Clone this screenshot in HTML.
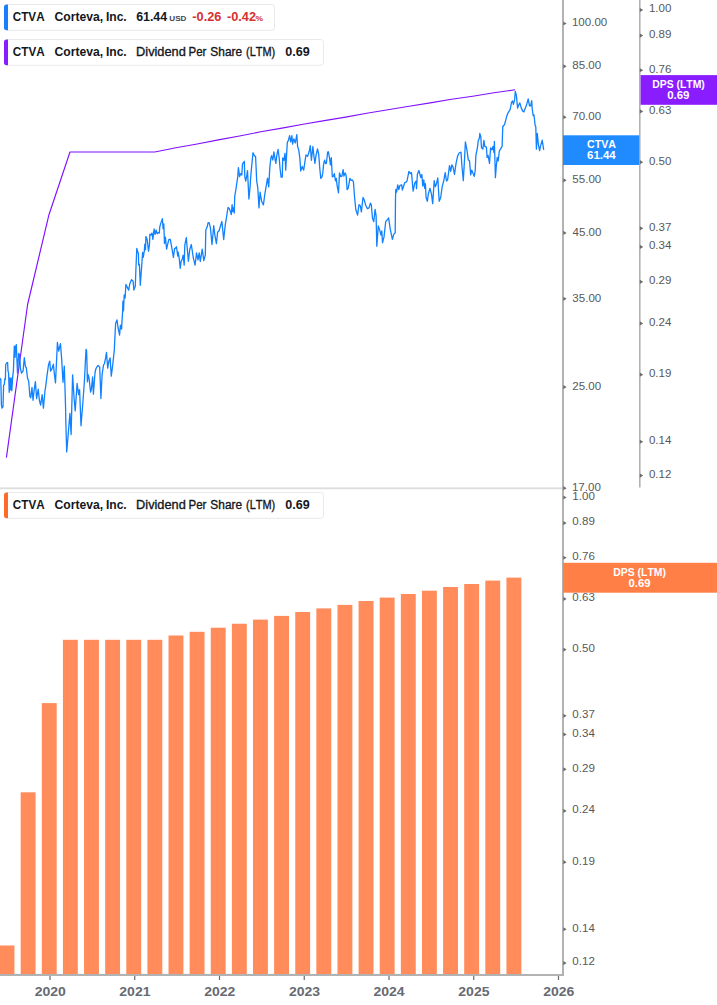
<!DOCTYPE html>
<html><head><meta charset="utf-8"><style>
html,body{margin:0;padding:0;background:#fff;width:717px;height:1005px;overflow:hidden}
svg{display:block;font-family:"Liberation Sans",sans-serif;font-kerning:none}
</style></head><body>
<svg width="717" height="1005" viewBox="0 0 717 1005">
<rect x="0" y="487.4" width="562" height="1.8" fill="#dddddd"/>
<rect x="562" y="0" width="2" height="976" fill="#b2b2b2"/>
<rect x="639" y="0" width="1.6" height="487.5" fill="#b2b2b2"/>
<rect x="0" y="974" width="564" height="2" fill="#b2b2b2"/>
<path d="M563.30 21.40 L566.60 23.50 L563.30 25.60 Z" fill="#6b6b6b"/>
<text transform="translate(571.92,26.20) scale(1.0061,1)" font-size="11.50" font-weight="400" fill="#585858" >100.00</text>
<path d="M563.30 64.20 L566.60 66.30 L563.30 68.40 Z" fill="#6b6b6b"/>
<text transform="translate(572.30,69.00) scale(1.0061,1)" font-size="11.50" font-weight="400" fill="#585858" >85.00</text>
<path d="M563.30 115.10 L566.60 117.20 L563.30 119.30 Z" fill="#6b6b6b"/>
<text transform="translate(572.21,119.90) scale(1.0061,1)" font-size="11.50" font-weight="400" fill="#585858" >70.00</text>
<path d="M563.30 178.21 L566.60 180.31 L563.30 182.41 Z" fill="#6b6b6b"/>
<text transform="translate(572.34,183.01) scale(1.0061,1)" font-size="11.50" font-weight="400" fill="#585858" >55.00</text>
<path d="M563.30 230.85 L566.60 232.95 L563.30 235.05 Z" fill="#6b6b6b"/>
<text transform="translate(572.53,235.65) scale(1.0061,1)" font-size="11.50" font-weight="400" fill="#585858" >45.00</text>
<path d="M563.30 296.77 L566.60 298.87 L563.30 300.97 Z" fill="#6b6b6b"/>
<text transform="translate(572.36,301.57) scale(1.0061,1)" font-size="11.50" font-weight="400" fill="#585858" >35.00</text>
<path d="M563.30 385.00 L566.60 387.10 L563.30 389.20 Z" fill="#6b6b6b"/>
<text transform="translate(572.22,389.80) scale(1.0061,1)" font-size="11.50" font-weight="400" fill="#585858" >25.00</text>
<path d="M563.30 486.10 L566.60 488.20 L563.30 490.30 Z" fill="#6b6b6b"/>
<text transform="translate(571.92,490.90) scale(1.0061,1)" font-size="11.50" font-weight="400" fill="#585858" >17.00</text>
<path d="M639.90 7.90 L643.20 10.00 L639.90 12.10 Z" fill="#6b6b6b"/>
<text transform="translate(648.95,12.30) scale(1.0052,1)" font-size="11.5" fill="#585858">1.00</text>
<path d="M639.90 33.49 L643.20 35.59 L639.90 37.69 Z" fill="#6b6b6b"/>
<text transform="translate(648.95,37.89) scale(1.0052,1)" font-size="11.5" fill="#585858">0.89</text>
<path d="M639.90 68.17 L643.20 70.27 L639.90 72.37 Z" fill="#6b6b6b"/>
<text transform="translate(648.95,72.57) scale(1.0052,1)" font-size="11.5" fill="#585858">0.76</text>
<path d="M639.90 109.36 L643.20 111.46 L639.90 113.56 Z" fill="#6b6b6b"/>
<text transform="translate(648.95,113.76) scale(1.0052,1)" font-size="11.5" fill="#585858">0.63</text>
<path d="M639.90 160.12 L643.20 162.22 L639.90 164.32 Z" fill="#6b6b6b"/>
<text transform="translate(648.95,164.52) scale(1.0052,1)" font-size="11.5" fill="#585858">0.50</text>
<path d="M639.90 226.24 L643.20 228.34 L639.90 230.44 Z" fill="#6b6b6b"/>
<text transform="translate(648.95,230.64) scale(1.0052,1)" font-size="11.5" fill="#585858">0.37</text>
<path d="M639.90 244.81 L643.20 246.91 L639.90 249.01 Z" fill="#6b6b6b"/>
<text transform="translate(648.95,249.21) scale(1.0052,1)" font-size="11.5" fill="#585858">0.34</text>
<path d="M639.90 279.74 L643.20 281.84 L639.90 283.94 Z" fill="#6b6b6b"/>
<text transform="translate(648.95,284.14) scale(1.0052,1)" font-size="11.5" fill="#585858">0.29</text>
<path d="M639.90 321.29 L643.20 323.39 L639.90 325.49 Z" fill="#6b6b6b"/>
<text transform="translate(648.95,325.69) scale(1.0052,1)" font-size="11.5" fill="#585858">0.24</text>
<path d="M639.90 372.60 L643.20 374.70 L639.90 376.80 Z" fill="#6b6b6b"/>
<text transform="translate(648.95,377.00) scale(1.0052,1)" font-size="11.5" fill="#585858">0.19</text>
<path d="M639.90 439.66 L643.20 441.76 L639.90 443.86 Z" fill="#6b6b6b"/>
<text transform="translate(648.95,444.06) scale(1.0052,1)" font-size="11.5" fill="#585858">0.14</text>
<path d="M639.90 473.51 L643.20 475.61 L639.90 477.71 Z" fill="#6b6b6b"/>
<text transform="translate(648.95,477.91) scale(1.0052,1)" font-size="11.5" fill="#585858">0.12</text>
<path d="M563.30 495.40 L566.60 497.50 L563.30 499.60 Z" fill="#6b6b6b"/>
<text transform="translate(572.35,499.80) scale(1.0052,1)" font-size="11.5" fill="#585858">1.00</text>
<path d="M563.30 520.99 L566.60 523.09 L563.30 525.19 Z" fill="#6b6b6b"/>
<text transform="translate(572.35,525.39) scale(1.0052,1)" font-size="11.5" fill="#585858">0.89</text>
<path d="M563.30 555.67 L566.60 557.77 L563.30 559.87 Z" fill="#6b6b6b"/>
<text transform="translate(572.35,560.07) scale(1.0052,1)" font-size="11.5" fill="#585858">0.76</text>
<path d="M563.30 596.86 L566.60 598.96 L563.30 601.06 Z" fill="#6b6b6b"/>
<text transform="translate(572.35,601.26) scale(1.0052,1)" font-size="11.5" fill="#585858">0.63</text>
<path d="M563.30 647.62 L566.60 649.72 L563.30 651.82 Z" fill="#6b6b6b"/>
<text transform="translate(572.35,652.02) scale(1.0052,1)" font-size="11.5" fill="#585858">0.50</text>
<path d="M563.30 713.74 L566.60 715.84 L563.30 717.94 Z" fill="#6b6b6b"/>
<text transform="translate(572.35,718.14) scale(1.0052,1)" font-size="11.5" fill="#585858">0.37</text>
<path d="M563.30 732.31 L566.60 734.41 L563.30 736.51 Z" fill="#6b6b6b"/>
<text transform="translate(572.35,736.71) scale(1.0052,1)" font-size="11.5" fill="#585858">0.34</text>
<path d="M563.30 767.24 L566.60 769.34 L563.30 771.44 Z" fill="#6b6b6b"/>
<text transform="translate(572.35,771.64) scale(1.0052,1)" font-size="11.5" fill="#585858">0.29</text>
<path d="M563.30 808.79 L566.60 810.89 L563.30 812.99 Z" fill="#6b6b6b"/>
<text transform="translate(572.35,813.19) scale(1.0052,1)" font-size="11.5" fill="#585858">0.24</text>
<path d="M563.30 860.10 L566.60 862.20 L563.30 864.30 Z" fill="#6b6b6b"/>
<text transform="translate(572.35,864.50) scale(1.0052,1)" font-size="11.5" fill="#585858">0.19</text>
<path d="M563.30 927.16 L566.60 929.26 L563.30 931.36 Z" fill="#6b6b6b"/>
<text transform="translate(572.35,931.56) scale(1.0052,1)" font-size="11.5" fill="#585858">0.14</text>
<path d="M563.30 961.01 L566.60 963.11 L563.30 965.21 Z" fill="#6b6b6b"/>
<text transform="translate(572.35,965.41) scale(1.0052,1)" font-size="11.5" fill="#585858">0.12</text>
<rect x="49.40" y="976" width="1.2" height="4" fill="#6b6b6b"/>
<text transform="translate(34.66,996.20) scale(1.1117,1)" font-size="12.60" font-weight="700" fill="#676a72">2020</text>
<rect x="134.15" y="976" width="1.2" height="4" fill="#6b6b6b"/>
<text transform="translate(119.32,996.20) scale(1.1117,1)" font-size="12.60" font-weight="700" fill="#676a72">2021</text>
<rect x="218.90" y="976" width="1.2" height="4" fill="#6b6b6b"/>
<text transform="translate(204.16,996.20) scale(1.1117,1)" font-size="12.60" font-weight="700" fill="#676a72">2022</text>
<rect x="303.65" y="976" width="1.2" height="4" fill="#6b6b6b"/>
<text transform="translate(288.88,996.20) scale(1.1117,1)" font-size="12.60" font-weight="700" fill="#676a72">2023</text>
<rect x="388.40" y="976" width="1.2" height="4" fill="#6b6b6b"/>
<text transform="translate(373.41,996.20) scale(1.1117,1)" font-size="12.60" font-weight="700" fill="#676a72">2024</text>
<rect x="473.15" y="976" width="1.2" height="4" fill="#6b6b6b"/>
<text transform="translate(458.32,996.20) scale(1.1117,1)" font-size="12.60" font-weight="700" fill="#676a72">2025</text>
<rect x="557.90" y="976" width="1.2" height="4" fill="#6b6b6b"/>
<text transform="translate(543.13,996.20) scale(1.1117,1)" font-size="12.60" font-weight="700" fill="#676a72">2026</text>
<rect x="0.00" y="945.50" width="14.46" height="28.50" fill="#ff8c5a"/>
<rect x="20.68" y="792.30" width="14.90" height="181.70" fill="#ff8c5a"/>
<rect x="41.80" y="703.10" width="14.90" height="270.90" fill="#ff8c5a"/>
<rect x="62.92" y="639.80" width="14.90" height="334.20" fill="#ff8c5a"/>
<rect x="84.04" y="639.80" width="14.90" height="334.20" fill="#ff8c5a"/>
<rect x="105.16" y="639.80" width="14.90" height="334.20" fill="#ff8c5a"/>
<rect x="126.28" y="639.80" width="14.90" height="334.20" fill="#ff8c5a"/>
<rect x="147.40" y="639.80" width="14.90" height="334.20" fill="#ff8c5a"/>
<rect x="168.52" y="635.50" width="14.90" height="338.50" fill="#ff8c5a"/>
<rect x="189.64" y="631.80" width="14.90" height="342.20" fill="#ff8c5a"/>
<rect x="210.76" y="627.70" width="14.90" height="346.30" fill="#ff8c5a"/>
<rect x="231.88" y="623.75" width="14.90" height="350.25" fill="#ff8c5a"/>
<rect x="253.00" y="619.60" width="14.90" height="354.40" fill="#ff8c5a"/>
<rect x="274.12" y="615.90" width="14.90" height="358.10" fill="#ff8c5a"/>
<rect x="295.24" y="612.00" width="14.90" height="362.00" fill="#ff8c5a"/>
<rect x="316.36" y="608.40" width="14.90" height="365.60" fill="#ff8c5a"/>
<rect x="337.48" y="604.90" width="14.90" height="369.10" fill="#ff8c5a"/>
<rect x="358.60" y="601.00" width="14.90" height="373.00" fill="#ff8c5a"/>
<rect x="379.72" y="597.60" width="14.90" height="376.40" fill="#ff8c5a"/>
<rect x="400.84" y="594.00" width="14.90" height="380.00" fill="#ff8c5a"/>
<rect x="421.96" y="590.70" width="14.90" height="383.30" fill="#ff8c5a"/>
<rect x="443.08" y="587.00" width="14.90" height="387.00" fill="#ff8c5a"/>
<rect x="464.20" y="584.00" width="14.90" height="390.00" fill="#ff8c5a"/>
<rect x="485.32" y="580.60" width="14.90" height="393.40" fill="#ff8c5a"/>
<rect x="506.44" y="577.60" width="14.90" height="396.40" fill="#ff8c5a"/>
<path d="M6.40 457.70 L27.60 304.50 L48.79 215.30 L69.99 152.00 L91.18 152.00 L112.38 152.00 L133.58 152.00 L154.77 152.00 L175.97 147.70 L197.16 144.00 L218.36 139.90 L239.56 135.95 L260.75 131.80 L281.95 128.10 L303.14 124.20 L324.34 120.60 L345.54 117.10 L366.73 113.20 L387.93 109.80 L409.12 106.20 L430.32 102.90 L451.52 99.20 L472.71 96.20 L493.91 92.80 L515.10 89.80" fill="none" stroke="#8010ff" stroke-width="1.15" stroke-linejoin="round"/>
<path d="M0.00 378.00 L0.80 379.60 L1.40 405.10 L2.00 408.20 L3.00 406.70 L3.60 385.20 L4.40 384.40 L4.80 378.80 L5.40 379.60 L5.70 364.50 L6.80 362.90 L7.60 362.50 L8.00 370.80 L8.60 373.20 L9.20 392.30 L9.70 378.00 L10.40 389.90 L11.10 378.00 L11.80 390.70 L12.70 376.40 L13.40 370.80 L14.30 346.10 L15.10 357.30 L15.50 347.00 L16.30 344.60 L17.50 373.20 L18.70 353.30 L19.50 354.90 L20.50 369.20 L21.50 373.20 L23.10 370.80 L24.30 357.70 L25.50 366.80 L26.30 367.60 L27.50 378.00 L28.70 381.20 L29.90 396.30 L30.70 397.90 L32.00 387.50 L33.00 400.30 L34.10 390.70 L35.40 381.60 L36.60 398.70 L38.20 389.10 L39.40 400.30 L40.60 405.10 L42.20 394.70 L43.40 408.20 L45.00 390.70 L45.60 387.20 L46.80 377.30 L48.50 364.90 L49.70 361.10 L50.60 371.10 L51.80 369.20 L53.40 364.20 L54.30 373.60 L55.50 382.90 L57.40 342.50 L58.70 351.20 L60.50 343.70 L61.80 361.10 L63.00 382.30 L64.30 366.10 L65.50 404.70 L65.90 424.60 L66.70 451.90 L68.00 437.00 L69.90 413.40 L71.10 434.50 L72.60 374.80 L74.20 399.70 L75.20 410.90 L77.10 383.50 L78.60 394.70 L79.60 389.70 L81.00 425.80 L82.90 402.20 L84.50 379.80 L86.00 349.30 L86.60 350.70 L87.00 363.50 L87.40 381.80 L88.20 374.60 L89.00 377.80 L90.60 392.20 L91.40 389.00 L92.60 377.00 L93.40 394.10 L95.00 373.00 L95.80 369.00 L97.00 366.70 L98.10 365.50 L99.70 367.10 L100.90 398.50 L102.10 374.60 L103.50 365.10 L104.50 363.50 L105.60 357.90 L106.50 352.30 L107.70 368.20 L108.90 361.10 L110.10 357.90 L111.30 376.20 L112.90 363.50 L114.30 349.90 L115.60 323.50 L117.00 319.90 L118.00 327.50 L119.60 335.00 L120.40 325.10 L121.60 329.10 L122.00 321.10 L122.60 312.40 L122.90 301.20 L123.50 310.80 L124.20 294.80 L125.10 298.00 L125.90 284.50 L127.10 286.90 L128.70 290.10 L129.80 283.70 L131.50 279.70 L133.10 281.30 L133.90 290.10 L135.30 286.10 L135.90 269.30 L136.80 248.40 L138.40 253.90 L138.70 265.10 L139.40 264.40 L140.30 285.30 L141.90 263.00 L142.60 252.50 L143.20 257.40 L144.30 251.10 L144.80 244.20 L145.50 249.70 L145.90 236.50 L147.10 239.30 L147.80 244.90 L148.50 251.10 L149.40 245.60 L149.90 234.10 L150.90 235.10 L152.00 233.00 L152.90 239.30 L154.10 228.80 L155.10 234.40 L156.20 230.20 L157.20 233.70 L158.20 232.70 L159.30 233.00 L159.80 226.70 L161.00 222.60 L162.40 218.70 L163.10 228.80 L163.80 224.00 L164.50 243.50 L165.40 237.20 L166.60 249.10 L167.70 244.20 L168.90 239.30 L170.30 239.30 L171.80 247.70 L173.40 257.40 L174.60 248.40 L175.00 248.70 L176.50 246.80 L177.70 256.00 L178.20 252.10 L179.20 258.30 L180.20 268.30 L181.10 261.30 L182.30 259.00 L183.10 255.20 L184.20 265.20 L184.80 245.20 L186.30 237.60 L188.40 261.30 L189.70 249.80 L191.30 244.50 L193.40 258.30 L195.10 265.20 L196.50 252.90 L198.00 259.80 L199.20 252.90 L200.30 261.30 L202.20 249.10 L203.80 260.60 L205.30 255.20 L205.80 229.90 L207.20 226.80 L208.10 222.60 L209.10 222.60 L210.40 227.60 L212.00 244.50 L213.00 233.70 L213.70 225.70 L214.90 235.30 L216.40 243.70 L217.60 232.20 L219.10 230.70 L220.90 224.50 L221.90 221.50 L223.70 239.50 L225.20 225.30 L226.90 214.60 L228.00 207.50 L229.10 208.30 L230.20 210.90 L231.30 214.60 L232.10 204.60 L232.80 211.60 L234.00 207.20 L234.30 213.10 L234.70 196.70 L235.80 190.00 L236.90 182.50 L237.70 177.30 L238.40 167.60 L239.60 176.60 L240.70 173.60 L241.80 175.10 L242.50 163.90 L244.30 161.30 L244.80 176.60 L245.70 181.00 L246.60 176.60 L247.50 170.60 L248.90 199.00 L250.00 187.80 L250.70 177.30 L251.90 163.90 L253.00 152.70 L254.50 155.70 L255.60 156.80 L256.70 181.00 L257.80 187.80 L259.00 207.90 L260.10 192.20 L261.60 201.20 L263.40 204.90 L264.90 193.70 L266.40 184.80 L267.50 178.10 L268.70 186.90 L269.80 167.60 L270.90 157.90 L271.60 155.70 L272.80 160.10 L273.90 151.90 L274.60 156.40 L275.80 163.30 L276.90 154.90 L278.10 149.50 L279.20 158.00 L280.00 168.00 L281.10 177.10 L282.30 177.10 L282.70 158.00 L283.80 160.30 L285.00 153.40 L285.70 170.20 L287.30 142.60 L288.40 140.30 L289.60 135.70 L290.70 141.90 L291.90 135.70 L292.60 144.20 L293.80 138.80 L295.30 143.00 L296.80 134.60 L297.60 146.50 L298.80 150.30 L299.90 158.70 L300.70 171.00 L302.20 166.40 L303.70 170.20 L304.90 161.80 L306.00 154.90 L307.60 156.40 L309.10 151.80 L310.30 145.70 L311.40 160.30 L312.90 146.50 L313.70 154.10 L314.90 163.30 L316.00 155.70 L317.50 148.80 L318.70 154.10 L319.80 168.70 L320.80 178.40 L322.00 176.80 L322.80 172.90 L323.60 164.10 L324.60 160.10 L325.60 163.70 L326.40 163.30 L327.60 152.20 L328.40 151.80 L329.60 158.50 L330.40 164.90 L331.30 157.70 L332.30 176.80 L333.40 176.40 L334.30 173.70 L335.50 180.80 L336.30 178.40 L337.10 185.60 L338.50 192.80 L339.50 172.90 L340.90 176.80 L341.90 176.10 L343.10 169.70 L343.90 176.10 L345.10 172.90 L346.10 175.30 L347.10 189.60 L348.30 188.00 L349.90 178.40 L351.10 180.40 L352.20 180.00 L353.40 181.60 L354.60 197.50 L355.80 209.50 L357.60 215.10 L359.00 204.70 L360.20 205.50 L361.40 211.90 L363.00 197.50 L364.20 199.90 L365.80 205.50 L367.40 208.70 L369.00 207.90 L370.40 203.10 L371.30 204.80 L372.50 218.30 L373.80 221.70 L375.10 209.40 L376.10 215.80 L376.80 246.20 L378.30 225.90 L379.70 230.10 L381.00 235.20 L381.80 231.00 L382.50 242.80 L384.00 236.90 L385.70 221.70 L387.80 219.10 L388.60 217.90 L390.30 229.30 L392.40 239.40 L393.70 234.40 L395.20 232.70 L395.50 198.80 L395.80 189.50 L396.60 192.10 L397.70 184.90 L398.80 189.50 L400.00 185.30 L401.70 184.90 L402.30 190.00 L404.70 182.80 L406.40 181.90 L407.20 180.20 L408.90 171.30 L410.20 173.50 L411.50 172.60 L413.10 191.20 L414.80 182.80 L416.10 181.10 L416.50 188.70 L417.40 174.30 L418.90 170.50 L420.80 177.50 L421.90 174.50 L422.70 186.00 L423.80 179.80 L424.60 188.30 L425.40 183.70 L426.10 197.50 L427.30 201.30 L428.40 193.70 L430.00 188.30 L431.50 194.40 L432.70 203.60 L434.20 180.60 L435.30 186.70 L436.50 183.70 L437.80 177.90 L439.20 201.30 L440.70 197.50 L442.20 186.70 L443.80 180.60 L445.20 172.60 L446.50 181.00 L447.60 179.80 L449.50 165.70 L450.70 171.40 L451.80 164.90 L453.00 166.80 L454.50 174.50 L456.00 163.70 L457.60 156.10 L459.10 153.00 L461.00 152.20 L461.80 164.50 L463.30 180.60 L464.50 159.90 L465.40 141.90 L466.80 149.20 L468.30 159.90 L469.50 160.70 L470.70 174.90 L471.70 170.10 L472.80 172.80 L474.20 176.30 L475.20 170.70 L475.90 155.40 L477.00 149.80 L477.70 145.70 L478.20 140.80 L479.40 138.00 L479.80 133.50 L480.80 136.60 L481.50 147.80 L482.90 149.10 L483.90 140.40 L484.80 146.40 L486.40 147.10 L487.10 157.50 L488.10 155.40 L489.50 163.40 L490.60 147.80 L492.00 149.80 L493.00 146.40 L494.00 152.60 L494.40 141.50 L495.40 177.70 L496.30 165.90 L497.20 157.50 L498.20 161.00 L499.30 151.20 L502.10 146.40 L502.80 126.10 L503.40 126.00 L504.50 124.60 L505.60 120.80 L506.70 116.30 L508.20 112.60 L510.10 109.60 L511.60 102.20 L512.60 101.00 L513.40 104.40 L514.60 99.90 L515.30 91.30 L516.40 95.40 L517.60 108.10 L518.70 105.10 L519.80 102.90 L521.30 108.10 L522.80 111.10 L523.90 111.90 L525.00 108.90 L526.50 105.10 L528.20 98.80 L529.50 105.90 L530.60 105.90 L531.70 100.70 L532.30 109.60 L533.20 115.60 L534.00 114.90 L535.10 125.30 L535.80 126.80 L536.40 149.20 L537.30 133.50 L538.40 144.70 L539.60 150.70 L540.70 145.40 L542.20 140.20 L543.70 149.90" fill="none" stroke="#1181ff" stroke-width="1.3" stroke-linejoin="round"/>
<rect x="563" y="135.3" width="76.2" height="29.7" fill="#1f8bff"/>
<text transform="translate(587.06,147.80) scale(0.9876,1)" font-size="10.76" font-weight="700" fill="#fff" >CTVA</text>
<text transform="translate(587.08,158.80) scale(1.0514,1)" font-size="10.90" font-weight="700" fill="#fff" >61.44</text>
<rect x="640.6" y="75.1" width="77" height="29.7" fill="#8a1dff"/>
<text transform="translate(652.31,87.90) scale(0.9047,1)" font-size="11.48" font-weight="700" fill="#fff" >DPS (LTM)</text>
<text transform="translate(667.15,98.90) scale(1.0549,1)" font-size="10.90" font-weight="700" fill="#fff" >0.69</text>
<rect x="563" y="562.8" width="154" height="29.9" fill="#ff7f47"/>
<text transform="translate(613.30,575.70) scale(0.9567,1)" font-size="10.90" font-weight="700" fill="#fff" >DPS (LTM)</text>
<text transform="translate(628.55,586.90) scale(1.1145,1)" font-size="10.17" font-weight="700" fill="#fff" >0.69</text>
<rect x="4.5" y="4.5" width="270.0" height="25.8" rx="3" fill="#fff" fill-opacity="0.9" stroke="#e9e9ec" stroke-width="1"/>
<path d="M4 7.00 Q4 4.40 6.60 4.40 L8 4.40 L8 30.20 L6.60 30.20 Q4 30.20 4 27.60 Z" fill="#1a7fff"/>
<text transform="translate(12.82,20.80) scale(0.9234,1)" font-size="12.65" font-weight="700" fill="#131722" >CTVA</text>
<text transform="translate(54.50,20.80) scale(0.9627,1)" font-size="12.65" font-weight="700" fill="#131722" >Corteva,</text>
<text transform="translate(105.89,20.80) scale(0.9568,1)" font-size="12.65" font-weight="700" fill="#131722" >Inc.</text>
<text transform="translate(136.15,20.80) scale(0.9803,1)" font-size="12.65" font-weight="700" fill="#131722" >61.44</text>
<text transform="translate(169.31,20.80) scale(1.1390,1)" font-size="7.12" font-weight="700" fill="#434651" >USD</text>
<text transform="translate(192.30,20.70) scale(1.0450,1)" font-size="12.20" font-weight="700" fill="#d6302f" >-0.26</text>
<text transform="translate(227.00,20.70) scale(1.0431,1)" font-size="12.20" font-weight="700" fill="#d6302f" >-0.42</text>
<text transform="translate(255.59,20.70) scale(1.2404,1)" font-size="6.83" font-weight="700" fill="#d6302f" >%</text>
<rect x="4.5" y="39.5" width="319.0" height="25.8" rx="3" fill="#fff" fill-opacity="0.9" stroke="#e9e9ec" stroke-width="1"/>
<path d="M4 42.00 Q4 39.40 6.60 39.40 L8 39.40 L8 65.20 L6.60 65.20 Q4 65.20 4 62.60 Z" fill="#8a1dff"/>
<text transform="translate(12.82,55.85) scale(0.9181,1)" font-size="12.72" font-weight="700" fill="#131722" >CTVA</text>
<text transform="translate(54.50,55.85) scale(0.9572,1)" font-size="12.72" font-weight="700" fill="#131722" >Corteva,</text>
<text transform="translate(105.89,55.85) scale(0.9513,1)" font-size="12.72" font-weight="700" fill="#131722" >Inc.</text>
<text transform="translate(136.05,55.85) scale(1.0058,1)" font-size="12.72" font-weight="400" fill="#131722" stroke="#131722" stroke-width="0.35">Dividend</text>
<text transform="translate(188.45,55.85) scale(0.9063,1)" font-size="12.72" font-weight="400" fill="#131722" stroke="#131722" stroke-width="0.35">Per</text>
<text transform="translate(210.36,55.85) scale(0.9361,1)" font-size="12.72" font-weight="400" fill="#131722" stroke="#131722" stroke-width="0.35">Share</text>
<text transform="translate(246.02,55.85) scale(0.8611,1)" font-size="12.70" font-weight="400" fill="#131722" stroke="#131722" stroke-width="0.35">(LTM)</text>
<text transform="translate(285.30,55.85) scale(0.9883,1)" font-size="12.72" font-weight="700" fill="#131722" >0.69</text>
<rect x="4.5" y="492.5" width="319.0" height="25.8" rx="3" fill="#fff" fill-opacity="0.9" stroke="#e9e9ec" stroke-width="1"/>
<path d="M4 495.00 Q4 492.40 6.60 492.40 L8 492.40 L8 518.20 L6.60 518.20 Q4 518.20 4 515.60 Z" fill="#ff6a2a"/>
<text transform="translate(12.82,508.85) scale(0.9181,1)" font-size="12.72" font-weight="700" fill="#131722" >CTVA</text>
<text transform="translate(54.50,508.85) scale(0.9572,1)" font-size="12.72" font-weight="700" fill="#131722" >Corteva,</text>
<text transform="translate(105.89,508.85) scale(0.9513,1)" font-size="12.72" font-weight="700" fill="#131722" >Inc.</text>
<text transform="translate(136.05,508.85) scale(1.0058,1)" font-size="12.72" font-weight="400" fill="#131722" stroke="#131722" stroke-width="0.35">Dividend</text>
<text transform="translate(188.45,508.85) scale(0.9063,1)" font-size="12.72" font-weight="400" fill="#131722" stroke="#131722" stroke-width="0.35">Per</text>
<text transform="translate(210.36,508.85) scale(0.9361,1)" font-size="12.72" font-weight="400" fill="#131722" stroke="#131722" stroke-width="0.35">Share</text>
<text transform="translate(246.02,508.85) scale(0.8611,1)" font-size="12.70" font-weight="400" fill="#131722" stroke="#131722" stroke-width="0.35">(LTM)</text>
<text transform="translate(285.30,508.85) scale(0.9883,1)" font-size="12.72" font-weight="700" fill="#131722" >0.69</text>
</svg></body></html>
